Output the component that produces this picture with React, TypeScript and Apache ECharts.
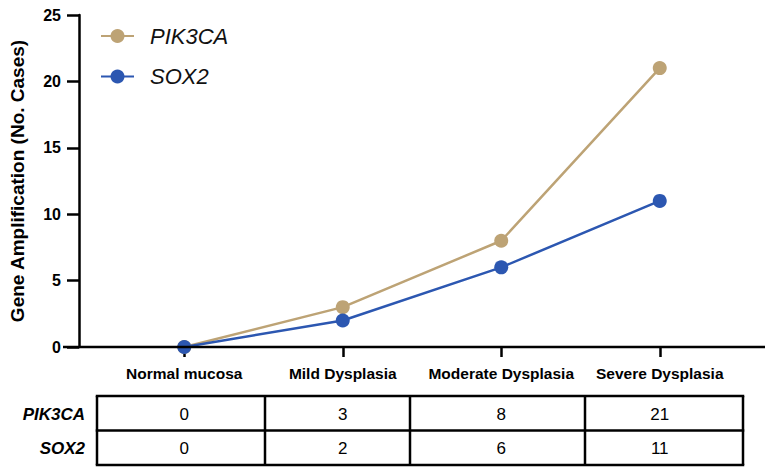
import React, { useEffect, useRef } from "react";
import * as echarts from "echarts";

const categories = ["Normal mucosa", "Mild Dysplasia", "Moderate Dysplasia", "Severe Dysplasia"];
const pik3caValues = [0, 3, 8, 21];
const sox2Values = [0, 2, 6, 11];
const seriesNames = ["PIK3CA", "SOX2"];
const yTicks = { min: 0, max: 25, interval: 5 };
const yAxisTitle = "Gene Amplification (No. Cases)";

const FONT = "'Liberation Sans', Arial, Helvetica, sans-serif";
const TAN = "#BDA375";
const BLUE = "#2C57B1";

export default function App() {
  const ref = useRef<HTMLDivElement>(null);
  useEffect(() => {
    if (!ref.current) return;
    const chart = echarts.init(ref.current, undefined, { renderer: "svg" });
    chart.setOption({
      animation: false,
      backgroundColor: "#ffffff",
      textStyle: { fontFamily: FONT },
      grid: { left: 100, right: 33, top: 15, bottom: 129 },
      legend: {
        orient: "vertical",
        left: 100,
        top: 25,
        padding: 0,
        itemWidth: 33,
        itemHeight: 17.5,
        itemGap: 18.5,
        data: seriesNames,
        textStyle: {
          fontFamily: FONT,
          fontSize: 22,
          fontStyle: "italic",
          color: "#111",
          padding: [0, 0, 0, 11],
        },
      },
      xAxis: {
        type: "category",
        data: categories,
        boundaryGap: true,
        axisLine: { show: false },
        axisTick: {
          show: true,
          alignWithLabel: true,
          interval: 0,
          length: 10,
          lineStyle: { color: "#000", width: 2.5 },
        },
        axisLabel: {
          interval: 0,
          margin: 18,
          fontSize: 15.5,
          fontWeight: "bold",
          color: "#000",
          fontFamily: FONT,
        },
        splitLine: { show: false },
      },
      yAxis: {
        type: "value",
        min: yTicks.min,
        max: yTicks.max,
        interval: yTicks.interval,
        offset: 26,
        name: yAxisTitle,
        nameLocation: "middle",
        nameGap: 52,
        nameTextStyle: { fontSize: 19, fontWeight: "bold", color: "#000", fontFamily: FONT },
        axisLine: { show: true, lineStyle: { color: "#000", width: 2.5 } },
        axisTick: { show: true, length: 12, lineStyle: { color: "#000", width: 2.5 } },
        axisLabel: { margin: 18, fontSize: 16, fontWeight: "bold", color: "#000", fontFamily: FONT },
        splitLine: { show: false },
      },
      series: [
        {
          name: seriesNames[0],
          type: "line",
          data: pik3caValues,
          symbol: "circle",
          symbolSize: 14,
          lineStyle: { color: TAN, width: 2.5 },
          itemStyle: { color: TAN },
        },
        {
          name: seriesNames[1],
          type: "line",
          data: sox2Values,
          symbol: "circle",
          symbolSize: 14,
          lineStyle: { color: BLUE, width: 2.5 },
          itemStyle: { color: BLUE },
        },
      ],
    });

    // Table below the chart, cell texts positioned with the category axis scale
    const rowTops = [396, 430.5, 465];
    const colBorders = [97, 265, 410, 585, 743];
    const lineStyle = { stroke: "#000", lineWidth: 2.5 };
    const graphics: any[] = [];
    // x axis line extended past the y axis
    graphics.push({ type: "line", shape: { x1: 63, y1: 347, x2: 765, y2: 347 }, style: lineStyle, z: 10 });
    rowTops.forEach((y) => {
      graphics.push({ type: "line", shape: { x1: colBorders[0] - 1.25, y1: y, x2: colBorders[colBorders.length - 1] + 1.25, y2: y }, style: lineStyle });
    });
    colBorders.forEach((x) => {
      graphics.push({ type: "line", shape: { x1: x, y1: rowTops[0], x2: x, y2: rowTops[rowTops.length - 1] }, style: lineStyle });
    });
    const rows = [pik3caValues, sox2Values];
    rows.forEach((vals, r) => {
      const cy = (rowTops[r] + rowTops[r + 1]) / 2;
      graphics.push({
        type: "text",
        x: 85,
        y: cy + 1,
        style: {
          text: seriesNames[r],
          fontSize: 17,
          fontWeight: "bold",
          fontStyle: "italic",
          fontFamily: FONT,
          fill: "#000",
          align: "right",
          verticalAlign: "middle",
        },
      });
      vals.forEach((v, c) => {
        const px = chart.convertToPixel({ xAxisIndex: 0 }, categories[c]) as number;
        graphics.push({
          type: "text",
          x: px,
          y: cy + 1,
          style: {
            text: String(v),
            fontSize: 17,
            fontFamily: FONT,
            fill: "#000",
            align: "center",
            verticalAlign: "middle",
          },
        });
      });
    });
    chart.setOption({ graphic: graphics });

    return () => chart.dispose();
  }, []);
  return (
    <div
      ref={ref}
      style={{ position: "absolute", left: 0, top: 0, width: 772, height: 476 }}
    />
  );
}
